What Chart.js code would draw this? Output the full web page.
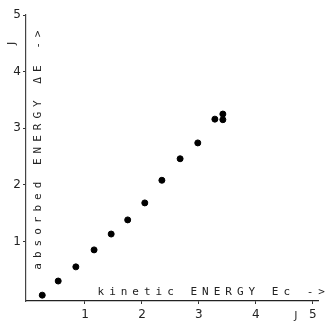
<!DOCTYPE html>
<html>
<head>
<meta charset="utf-8">
<script src="https://cdn.jsdelivr.net/npm/chart.js@4"></script>
<style>
  html, body { margin: 0; padding: 0; background: #fff; }
  #wrap { width: 332px; height: 327px; }
</style>
</head>
<body>
<div id="wrap"><canvas id="chartContainer" width="332" height="327"></canvas></div>
<script>
// values
const kineticEnergy = [0.25, 0.53, 0.84, 1.16, 1.46, 1.75, 2.05, 2.35, 2.67, 2.98, 3.28, 3.42, 3.42];
const absorbedEnergy = [0.05, 0.30, 0.55, 0.85, 1.13, 1.38, 1.68, 2.08, 2.46, 2.74, 3.16, 3.25, 3.15];
const xTicks = [1, 2, 3, 4, 5];
const yTicks = [1, 2, 3, 4, 5];
const xTitle = 'kinetic ENERGY Ec ->';
const yTitle = 'absorbed ENERGY \u0394E ->';

document.addEventListener("DOMContentLoaded", () => {
    initializeChart();
});

// axis titles sit inside the plot on the scan, so draw them by hand
const handLabels = {
    id: 'handLabels',
    afterDraw(chart) {
        const ctx = chart.ctx;
        const x = chart.scales.x, y = chart.scales.y;
        ctx.save();
        ctx.fillStyle = '#222';
        ctx.font = '11px "DejaVu Sans Mono"';
        ctx.letterSpacing = '5px';
        ctx.textBaseline = 'middle';
        ctx.textAlign = 'left';
        ctx.fillText(xTitle, x.getPixelForValue(1.22), y.getPixelForValue(0.1));

        ctx.translate(x.getPixelForValue(0.17), y.getPixelForValue(0.5));
        ctx.rotate(-Math.PI / 2);
        ctx.fillText(yTitle, 0, 0);
        ctx.restore();

        // stray unit marks on the scan
        ctx.save();
        ctx.fillStyle = '#333';
        ctx.font = '11px "DejaVu Sans"';
        ctx.textAlign = 'center';
        ctx.textBaseline = 'middle';
        ctx.fillText('J', x.getPixelForValue(4.7), chart.height - 11);
        ctx.translate(12, y.getPixelForValue(4.5));
        ctx.rotate(-Math.PI / 2);
        ctx.fillText('J', 0, 0);
        ctx.restore();
    }
};

function initializeChart() {
    const ctx = document.getElementById('chartContainer').getContext('2d');
    const points = kineticEnergy.map((v, i) => ({x: v, y: absorbedEnergy[i]}));
    new Chart(ctx, {
        type: 'scatter',
        data: {
            datasets: [{
                data: points,
                backgroundColor: '#000',
                borderColor: '#000',
                pointRadius: 3,
                pointHoverRadius: 3
            }]
        },
        options: {
            responsive: false,
            animation: false,
            layout: {padding: {top: 15, right: 14, left: 0, bottom: 0}},
            plugins: {legend: {display: false}, tooltip: {enabled: false}},
            scales: {
                x: {
                    type: 'linear',
                    min: -0.035,
                    max: 5.09,
                    afterBuildTicks: s => { s.ticks = xTicks.map(v => ({value: v})); },
                    afterFit: s => { s.height = 26; },
                    grid: {drawOnChartArea: false, tickLength: 3, color: '#333'},
                    border: {color: '#222', width: 1.3, dash: [5, 3]},
                    ticks: {color: '#222', padding: 4, font: {family: 'DejaVu Sans', size: 12}}
                },
                y: {
                    type: 'linear',
                    min: -0.053,
                    max: 5,
                    afterBuildTicks: s => { s.ticks = yTicks.map(v => ({value: v})); },
                    afterFit: s => { s.width = 26; },
                    grid: {drawOnChartArea: false, tickLength: 3, color: '#333'},
                    border: {color: '#444', width: 1.2, dash: [4, 4]},
                    ticks: {color: '#222', padding: 2, font: {family: 'DejaVu Sans', size: 12}}
                }
            }
        },
        plugins: [handLabels]
    });
}
</script>
</body>
</html>
